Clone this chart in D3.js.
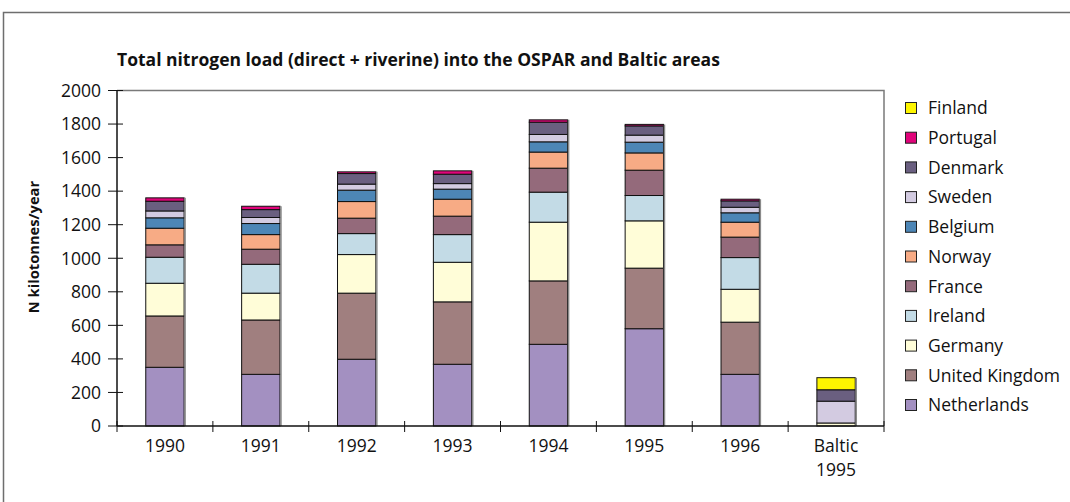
<!DOCTYPE html>
<html>
<head>
<meta charset="utf-8">
<script src="https://cdn.jsdelivr.net/npm/d3@7"></script>
<style>
  body { margin: 0; background: #fff; }
  svg { display: block; font-family: "Open Sans", Lato, sans-serif; }
</style>
</head>
<body>
<div id="chart"></div>
<script>
const categories = ["1990", "1991", "1992", "1993", "1994", "1995", "1996", "Baltic 1995"]
const countries = ["Netherlands", "United Kingdom", "Germany", "Ireland", "France", "Norway", "Belgium", "Sweden", "Denmark", "Portugal", "Finland"]
const colors = ["#a390c1", "#a07f7f", "#fffdd8", "#c3dbe6", "#946a7b", "#f7ab85", "#4d86b6", "#d3cbe1", "#6a5f80", "#e0047a", "#fdf500"]

// kilotonnes per year, one array per country, in category order
const netherlands = [350, 308, 398, 368, 487, 580, 308, 0]
const unitedKingdom = [306, 324, 394, 372, 378, 361, 311, 0]
const germany = [195, 160, 230, 236, 350, 282, 196, 18]
const ireland = [155, 172, 125, 165, 179, 151, 189, 0]
const france = [74, 90, 92, 110, 143, 151, 122, 0]
const norway = [99, 87, 99, 101, 96, 103, 89, 0]
const belgium = [62, 66, 68, 60, 61, 64, 56, 0]
const sweden = [41, 36, 36, 33, 44, 42, 33, 130]
const denmark = [58, 47, 63, 56, 73, 55, 38, 68]
const portugal = [20, 20, 10, 20, 14, 9, 10, 0]
const finland = [0, 0, 0, 0, 0, 0, 0, 72]

const yTicks = [0, 200, 400, 600, 800, 1000, 1200, 1400, 1600, 1800, 2000]

const series = [netherlands, unitedKingdom, germany, ireland, france, norway, belgium, sweden, denmark, portugal, finland]

const width = 1070
const height = 502

// table for d3.stack
const table = categories.map((c, i) => {
  const row = { cat: c }
  countries.forEach((n, j) => row[n] = series[j][i])
  return row
})
const stacked = d3.stack().keys(countries)(table)

const svg = d3.select('#chart')
  .append('svg')
  .attr('width', width)
  .attr('height', height)

// outer frame (runs off the right and bottom of the picture)
svg.append('rect')
  .attr('x', 3.5).attr('y', 12.5)
  .attr('width', 1100).attr('height', 520)
  .attr('fill', 'none')
  .attr('stroke', '#6e6e6e')
  .attr('stroke-width', 1.5)

const plotL = 117, plotR = 884, plotT = 90.5, plotB = 426

const x = d3.scaleBand().domain(categories).range([plotL, plotR]).paddingInner(0.6).paddingOuter(0.3)
const y = d3.scaleLinear().domain([0, 2000]).range([plotB, plotT])

// title
svg.append('text')
  .attr('x', 117).attr('y', 66)
  .attr('font-size', 17.5)
  .attr('font-weight', 'bold')
  .attr('fill', '#111')
  .text('Total nitrogen load (direct + riverine) into the OSPAR and Baltic areas')

// grey top and right edges of plot area
svg.append('path')
  .attr('d', `M${plotL},${plotT}H${plotR}V${plotB}`)
  .attr('fill', 'none')
  .attr('stroke', '#7a7a7a')
  .attr('stroke-width', 1.5)

// bars
const layer = svg.append('g')
  .selectAll('g')
  .data(stacked)
  .enter()
  .append('g')
  .attr('fill', (d, i) => colors[i])

layer.selectAll('rect')
  .data(d => d.filter(s => s[1] - s[0] > 0))
  .enter()
  .append('rect')
  .attr('x', d => x(d.data.cat))
  .attr('y', d => y(d[1]))
  .attr('width', x.bandwidth())
  .attr('height', d => y(d[0]) - y(d[1]))
  .attr('stroke', '#111')
  .attr('stroke-width', 1)

// grey shading on the right edge of bars
svg.append('g')
  .selectAll('line')
  .data(categories.map((c, i) => ({ cat: c, total: d3.sum(series, s => s[i]) })))
  .enter()
  .append('line')
  .attr('x1', d => x(d.cat) + x.bandwidth() + 1)
  .attr('x2', d => x(d.cat) + x.bandwidth() + 1)
  .attr('y1', d => y(d.total))
  .attr('y2', plotB)
  .attr('stroke', '#8a8a8a')
  .attr('stroke-width', 1.5)

// y axis
const yAxis = svg.append('g')
yAxis.append('line')
  .attr('x1', plotL).attr('x2', plotL)
  .attr('y1', plotT).attr('y2', plotB)
  .attr('stroke', '#111').attr('stroke-width', 1.5)
yAxis.selectAll('.tick')
  .data(yTicks)
  .enter()
  .append('line')
  .attr('x1', plotL - 9).attr('x2', plotL + 6)
  .attr('y1', d => y(d)).attr('y2', d => y(d))
  .attr('stroke', '#111').attr('stroke-width', 1)
yAxis.selectAll('text')
  .data(yTicks)
  .enter()
  .append('text')
  .attr('x', 101)
  .attr('y', d => y(d))
  .attr('dy', '0.36em')
  .attr('text-anchor', 'end')
  .attr('font-size', 17.5)
  .attr('fill', '#111')
  .text(d => d)

svg.append('text')
  .attr('transform', 'translate(39,247)rotate(-90)')
  .attr('text-anchor', 'middle')
  .attr('font-size', 14.7)
  .attr('font-weight', 'bold')
  .attr('fill', '#111')
  .text('N kilotonnes/year')

// x axis
const step = x.step()
const bounds = d3.range(categories.length + 1).map(i => plotL + i * step)
svg.append('line')
  .attr('x1', plotL).attr('x2', plotR)
  .attr('y1', plotB).attr('y2', plotB)
  .attr('stroke', '#111').attr('stroke-width', 1.5)
svg.append('g')
  .selectAll('line')
  .data(bounds)
  .enter()
  .append('line')
  .attr('x1', d => d).attr('x2', d => d)
  .attr('y1', plotB - 5).attr('y2', plotB + 6)
  .attr('stroke', '#111').attr('stroke-width', 1)

const xl = svg.append('g')
  .selectAll('text')
  .data(categories)
  .enter()
  .append('text')
  .attr('text-anchor', 'middle')
  .attr('font-size', 17.5)
  .attr('fill', '#111')
xl.selectAll('tspan')
  .data(d => d.split(' ').map(t => ({ t, c: d })))
  .enter()
  .append('tspan')
  .attr('x', d => x(d.c) + x.bandwidth() / 2)
  .attr('y', (d, i) => 452 + i * 24)
  .text(d => d.t)

// legend, top to bottom Finland ... Netherlands
const legend = svg.append('g')
  .selectAll('g')
  .data(countries.slice().reverse())
  .enter()
  .append('g')
  .attr('transform', (d, i) => `translate(905,${108 + i * 29.7})`)
legend.append('rect')
  .attr('x', 0.5).attr('y', -5.5)
  .attr('width', 11).attr('height', 11)
  .attr('fill', d => colors[countries.indexOf(d)])
  .attr('stroke', '#222').attr('stroke-width', 1)
legend.append('text')
  .attr('x', 23)
  .attr('dy', '0.36em')
  .attr('font-size', 17.5)
  .attr('fill', '#111')
  .text(d => d)
</script>
</body>
</html>
